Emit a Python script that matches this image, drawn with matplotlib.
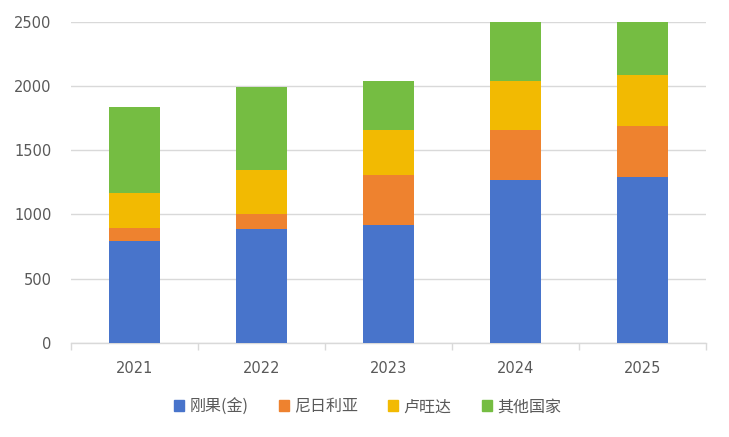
import matplotlib.pyplot as plt
import numpy as np
from matplotlib.patches import Patch

plt.rcParams['font.family'] = ['Noto Sans CJK SC', 'DejaVu Sans']

# Data
years = ['2021', '2022', '2023', '2024', '2025']
drc = [790, 885, 920, 1265, 1295]
nigeria = [105, 115, 390, 395, 395]
rwanda = [275, 350, 350, 380, 400]
others = [670, 640, 380, 460, 410]
series_names = ['刚果(金)', '尼日利亚', '卢旺达', '其他国家']
colors = ['#4874CB', '#EE822F', '#F2BA02', '#75BD42']
yticks = [0, 500, 1000, 1500, 2000, 2500]

fig = plt.figure(figsize=(7.29, 4.37), dpi=100)
ax = fig.add_axes([0.0974, 0.2158, 0.871, 0.7339])

x = np.arange(len(years))
bottom = np.zeros(len(years))
for vals, name, c in zip([drc, nigeria, rwanda, others], series_names, colors):
    ax.bar(x, vals, width=0.395, bottom=bottom, color=c, label=name, zorder=3)
    bottom += np.array(vals)

ax.set_xlim(-0.5, len(years) - 0.5)
ax.set_ylim(0, 2500)
ax.set_yticks(yticks)
ax.set_yticklabels([str(t) for t in yticks], color='#595959', fontsize=10.5,
                   family='DejaVu Sans')
ax.grid(axis='y', color='#d9d9d9', linewidth=1, zorder=0)

# category labels at centers, tick marks at boundaries
ax.set_xticks(x)
ax.set_xticklabels(years, color='#595959', fontsize=10.5, family='DejaVu Sans')
ax.tick_params(axis='x', length=0, pad=13)
ax.set_xticks(np.arange(-0.5, len(years)), minor=True)
ax.tick_params(axis='x', which='minor', length=5, color='#d9d9d9', width=1)
ax.tick_params(axis='y', length=0, pad=14)

for s in ['top', 'right', 'left']:
    ax.spines[s].set_visible(False)
ax.spines['bottom'].set_color('#d9d9d9')
ax.spines['bottom'].set_linewidth(1)

handles = [Patch(color=c, label=n) for c, n in zip(colors, series_names)]
fig.legend(handles=handles, loc='center', bbox_to_anchor=(0.504, 0.069), ncol=4,
           frameon=False, fontsize=11.5, handlelength=0.65, handleheight=0.65,
           handletextpad=0.3, columnspacing=1.9, labelcolor='#595959')

plt.savefig('out.png', dpi=100)
